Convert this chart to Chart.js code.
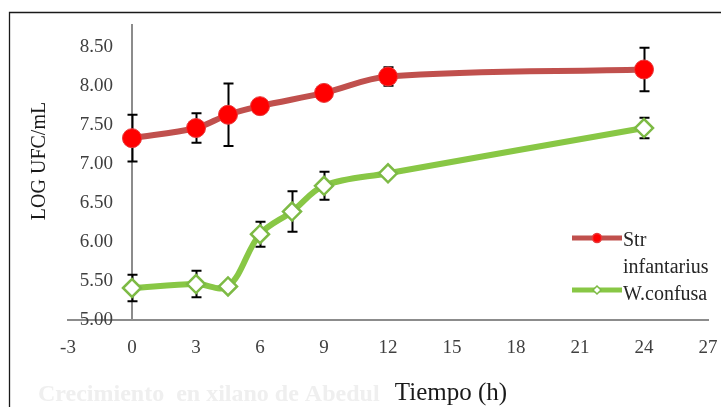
<!DOCTYPE html>
<html>
<head>
<meta charset="utf-8">
<script src="https://cdn.jsdelivr.net/npm/chart.js@4.4.1/dist/chart.umd.min.js"></script>
<style>
  html, body { margin: 0; padding: 0; background: #ffffff; }
  #c { display: block; }
</style>
</head>
<body>
<canvas id="c" width="721" height="407"></canvas>
<script>
// Growth of two strains on birch xylan (log CFU/mL vs. time in hours)
const seriesNames = ['Str infantarius', 'W.confusa'];

const hoursStr = [0, 3, 4.5, 6, 9, 12, 24];
const logStr   = [7.33, 7.46, 7.63, 7.74, 7.91, 8.12, 8.21];
const errStr   = [0.30, 0.19, 0.40, 0, 0, 0.12, 0.28];

const hoursWc  = [0, 3, 4.5, 6, 7.5, 9, 12, 24];
const logWc    = [5.41, 5.46, 5.43, 6.10, 6.39, 6.72, 6.88, 7.46];
const errWc    = [0.17, 0.17, 0, 0.16, 0.26, 0.18, 0, 0.13];

const xTickValues = [-3, 0, 3, 6, 9, 12, 15, 18, 21, 24, 27];
const yTickValues = [5.0, 5.5, 6.0, 6.5, 7.0, 7.5, 8.0, 8.5];

const xTitle = 'Tiempo (h)';
const yTitle = 'LOG UFC/mL';
const caption = 'Crecimiento  en xilano de Abedul';

const RED_LINE = '#C0504D';
const GREEN_LINE = '#88C745';
const SERIF = '"Liberation Serif", "DejaVu Serif", serif';

const toPoints = (xs, ys) => xs.map((x, i) => ({ x: x, y: ys[i] }));
const errors = [errStr, errWc];

const decor = {
  id: 'decor',
  beforeDraw(chart) {
    const ctx = chart.ctx;
    ctx.save();
    ctx.fillStyle = '#ffffff';
    ctx.fillRect(0, 0, chart.width, chart.height);
    // outer frame
    ctx.strokeStyle = '#1a1a1a';
    ctx.lineWidth = 1.3;
    ctx.beginPath();
    ctx.moveTo(9.5, chart.height + 2);
    ctx.lineTo(9.5, 12.5);
    ctx.lineTo(chart.width + 2, 12.5);
    ctx.stroke();
    // faint caption
    ctx.fillStyle = '#efefef';
    ctx.font = 'bold 24px ' + SERIF;
    ctx.textAlign = 'left';
    ctx.textBaseline = 'alphabetic';
    ctx.fillText(caption, 38, 401);
    ctx.restore();
  },
  beforeDatasetsDraw(chart) {
    const ctx = chart.ctx;
    const xs = chart.scales.x, ys = chart.scales.y;
    ctx.save();
    ctx.strokeStyle = '#000000';
    ctx.lineWidth = 2;
    chart.data.datasets.forEach((ds, i) => {
      ds.data.forEach((p, j) => {
        const e = errors[i][j];
        if (!e) return;
        const px = Math.round(xs.getPixelForValue(p.x)) + 0.5;
        const top = ys.getPixelForValue(p.y + e);
        const bot = ys.getPixelForValue(p.y - e);
        ctx.beginPath();
        ctx.moveTo(px, top); ctx.lineTo(px, bot);
        ctx.moveTo(px - 5, top); ctx.lineTo(px + 5, top);
        ctx.moveTo(px - 5, bot); ctx.lineTo(px + 5, bot);
        ctx.stroke();
      });
    });
    ctx.restore();
  },
  afterDraw(chart) {
    const ctx = chart.ctx;
    ctx.save();
    // axis titles
    ctx.fillStyle = '#1a1a1a';
    ctx.font = '25px ' + SERIF;
    ctx.textAlign = 'center';
    ctx.textBaseline = 'alphabetic';
    ctx.fillText(xTitle, 451, 400);
    ctx.save();
    ctx.translate(45, 161);
    ctx.rotate(-Math.PI / 2);
    ctx.font = '20px ' + SERIF;
    ctx.fillText(yTitle, 0, 0);
    ctx.restore();

    // legend
    const ds = chart.data.datasets;
    const rows = [238, 290];
    ds.forEach((d, i) => {
      const y = rows[i];
      ctx.strokeStyle = d.borderColor;
      ctx.lineWidth = 5;
      ctx.lineCap = 'butt';
      ctx.beginPath();
      ctx.moveTo(572, y); ctx.lineTo(622, y);
      ctx.stroke();
      ctx.fillStyle = d.pointBackgroundColor;
      ctx.strokeStyle = d.pointBorderColor;
      ctx.beginPath();
      if (i === 0) {
        ctx.arc(597, y, 4.5, 0, Math.PI * 2);
      } else {
        ctx.moveTo(597, y - 4); ctx.lineTo(601, y); ctx.lineTo(597, y + 4); ctx.lineTo(593, y); ctx.closePath();
      }
      ctx.lineWidth = 1.5;
      ctx.fill(); ctx.stroke();
    });
    ctx.fillStyle = '#262626';
    ctx.font = '20px ' + SERIF;
    ctx.textAlign = 'left';
    const strWords = ds[0].label.split(' ');
    ctx.fillText(strWords[0], 623, 246);
    ctx.fillText(strWords.slice(1).join(' '), 623, 273);
    ctx.fillText(ds[1].label, 623, 300);
    ctx.restore();
  }
};

new Chart(document.getElementById('c'), {
  type: 'line',
  data: {
    datasets: [
      {
        label: seriesNames[0],
        data: toPoints(hoursStr, logStr),
        borderColor: RED_LINE,
        borderWidth: 6,
        tension: 0.35,
        pointStyle: 'circle',
        pointRadius: 9.5,
        pointBackgroundColor: '#FF0000',
        pointBorderColor: '#E8393A',
        pointBorderWidth: 1
      },
      {
        label: seriesNames[1],
        data: toPoints(hoursWc, logWc),
        borderColor: GREEN_LINE,
        borderWidth: 6,
        tension: 0.35,
        pointStyle: 'rectRot',
        pointRadius: 9,
        pointBackgroundColor: '#FFFFFF',
        pointBorderColor: '#7DBA45',
        pointBorderWidth: 2.5
      }
    ]
  },
  options: {
    responsive: false,
    animation: false,
    devicePixelRatio: 1,
    layout: { padding: { left: 68, right: 13, top: 25, bottom: 0 } },
    plugins: {
      legend: { display: false },
      tooltip: { enabled: false }
    },
    scales: {
      x: {
        type: 'linear',
        min: -3,
        max: 27,
        afterBuildTicks: s => { s.ticks = xTickValues.map(v => ({ value: v })); },
        afterFit: s => { s.height = 87; },
        grid: { display: false, drawTicks: false },
        border: { display: true, color: '#8c8c8c', width: 2 },
        ticks: {
          padding: 0,
          color: '#404040',
          font: { family: SERIF, size: 19, lineHeight: '57px' },
          maxRotation: 0,
          autoSkip: false,
          callback: v => String(v)
        }
      },
      y: {
        type: 'linear',
        position: { x: 0 },
        min: 5,
        max: 8.78,
        afterBuildTicks: s => { s.ticks = yTickValues.map(v => ({ value: v })); },
        grid: { display: false, drawTicks: false },
        border: { display: true, color: '#8c8c8c', width: 2 },
        ticks: {
          color: '#404040',
          font: { family: SERIF, size: 19 },
          autoSkip: false,
          callback: v => Number(v).toFixed(2) + '    '
        }
      }
    }
  },
  plugins: [decor]
});
</script>
</body>
</html>
